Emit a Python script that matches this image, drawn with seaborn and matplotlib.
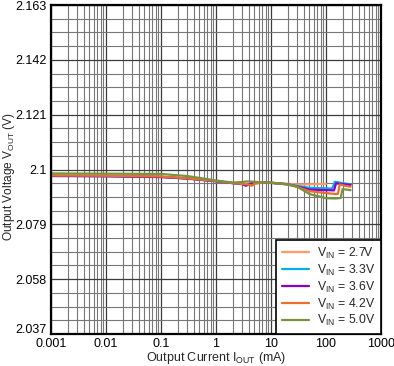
import pandas as pd
import numpy as np
import matplotlib
matplotlib.use('Agg')
import matplotlib.pyplot as plt
import matplotlib.ticker as mticker
import matplotlib.transforms as mtransforms
import seaborn as sns

# --- data ---
vin_labels = ['2.7V', '3.3V', '3.6V', '4.2V', '5.0V']

i_27 = [0.001, 0.01, 0.1, 0.3, 1, 2, 3, 3.5, 4, 4.5, 5, 7, 10, 20, 30, 50, 100]
v_27 = [2.0976, 2.0975, 2.0972, 2.0966, 2.0955, 2.0948, 2.0946, 2.0944, 2.0942, 2.0939, 2.0945,
        2.0950, 2.0949, 2.0945, 2.0943, 2.0943, 2.0945]

i_33 = [0.001, 0.01, 0.1, 0.3, 1, 2, 3, 3.5, 4, 5, 7, 10, 20, 30, 50, 100, 130, 145, 200, 280]
v_33 = [2.0976, 2.0975, 2.0972, 2.0966, 2.0955, 2.0948, 2.0945, 2.0939, 2.0944, 2.0950, 2.0950,
        2.0949, 2.0944, 2.0937, 2.0930, 2.0928, 2.0927, 2.0953, 2.0948, 2.0943]

i_36 = [0.001, 0.01, 0.1, 0.3, 1, 2, 3, 3.5, 4, 5, 7, 10, 20, 30, 50, 100, 140, 152, 200, 280]
v_36 = [2.0975, 2.0974, 2.0971, 2.0965, 2.0955, 2.0948, 2.0944, 2.0938, 2.0943, 2.0950, 2.0950,
        2.0949, 2.0943, 2.0935, 2.0923, 2.0921, 2.0920, 2.0947, 2.0944, 2.0941]

i_42 = [0.001, 0.01, 0.1, 0.3, 1, 2, 3, 4, 4.5, 5, 7, 10, 20, 30, 50, 100, 150, 165, 178, 220, 280]
v_42 = [2.0977, 2.0976, 2.0973, 2.0966, 2.0956, 2.0948, 2.0945, 2.0942, 2.0938, 2.0946, 2.0950,
        2.0949, 2.0943, 2.0933, 2.0917, 2.0910, 2.0906, 2.0907, 2.0943, 2.0938, 2.0934]

i_50 = [0.001, 0.01, 0.1, 0.3, 1, 2, 3, 3.5, 4, 5, 7, 10, 20, 30, 50, 100, 150, 185, 200, 280]
v_50 = [2.0985, 2.0984, 2.0983, 2.0975, 2.0958, 2.0950, 2.0952, 2.0954, 2.0954, 2.0953, 2.0951,
        2.0950, 2.0943, 2.0934, 2.0906, 2.0890, 2.0889, 2.0891, 2.0925, 2.0921]

y_ticks = [2.037, 2.058, 2.079, 2.1, 2.121, 2.142, 2.163]
y_tick_labels = ['2.037', '2.058', '2.079', '2.1', '2.121', '2.142', '2.163']
x_ticks = [0.001, 0.01, 0.1, 1, 10, 100, 1000]
x_tick_labels = ['0.001', '0.01', '0.1', '1', '10', '100', '1000']

colors = ['#FF9966', '#00B0F0', '#8A00C8', '#E8702A', '#77933C']

# long-form table for seaborn
frames = []
for lab, xs, ys in zip(vin_labels, [i_27, i_33, i_36, i_42, i_50], [v_27, v_33, v_36, v_42, v_50]):
    frames.append(pd.DataFrame({'I': xs, 'V': ys, 'VIN': r'V$_{\mathregular{IN}}$ = ' + lab}))
df = pd.concat(frames, ignore_index=True)

sns.set_style('white')
plt.rcParams['font.family'] = ['Liberation Sans', 'DejaVu Sans']
plt.rcParams['mathtext.fontset'] = 'custom'
plt.rcParams['mathtext.rm'] = 'Liberation Sans'
plt.rcParams['font.size'] = 8

fig = plt.figure(figsize=(3.94, 3.66), dpi=100)
ax = fig.add_axes([51 / 394, 1 - 334 / 366, 330 / 394, 329 / 366])

sns.lineplot(data=df, x='I', y='V', hue='VIN', palette=colors, linewidth=1.6,
             ax=ax, sort=False, estimator=None)

ax.set_xscale('log')
ax.set_xlim(0.001, 1000)
ax.set_ylim(2.037, 2.163)

ax.xaxis.set_major_locator(mticker.FixedLocator(x_ticks))
ax.xaxis.set_major_formatter(mticker.FixedFormatter(x_tick_labels))
ax.xaxis.set_minor_locator(mticker.LogLocator(base=10, subs=np.arange(2, 10), numticks=20))
ax.xaxis.set_minor_formatter(mticker.NullFormatter())
ax.set_yticks(y_ticks)
ax.set_yticklabels(y_tick_labels)
ax.yaxis.set_minor_locator(mticker.MultipleLocator(0.00525))

ax.grid(True, which='major', color='#3c3c3c', linewidth=0.9)
ax.grid(True, which='minor', color='#777777', linewidth=0.8)
ax.set_axisbelow(True)
ax.tick_params(which='both', length=0, labelsize=9, colors='black', pad=3)

# lift the bottom y label a little so it clears "0.001"
lbl = ax.get_yticklabels()[0]
lbl.set_transform(lbl.get_transform() + mtransforms.ScaledTranslation(0, 4 / 72, fig.dpi_scale_trans))

for s in ax.spines.values():
    s.set_color('black')
    s.set_linewidth(1.6)

ax.set_xlabel(r'Output Current I$_{\mathregular{OUT}}$ (mA)', fontsize=9, labelpad=0)
ax.set_ylabel(r'Output Voltage V$_{\mathregular{OUT}}$ (V)', fontsize=8.6)
ax.yaxis.set_label_coords(-0.104, 0.48)

leg = ax.legend(loc='lower right', borderaxespad=0, fancybox=False, framealpha=1,
                edgecolor='black', fontsize=8.8, handlelength=2.2, handletextpad=0.7,
                labelspacing=0.15, borderpad=0.45)
leg.get_frame().set_linewidth(1.2)

fig.savefig('out.png', dpi=100)
